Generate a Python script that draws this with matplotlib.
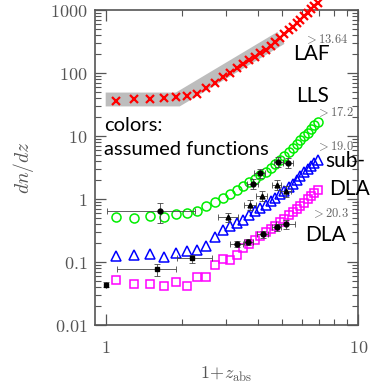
import matplotlib
matplotlib.use("Agg")
import matplotlib.pyplot as plt
from matplotlib.ticker import NullFormatter

plt.rcParams["mathtext.fontset"] = "cm"

# 1+z grid of the assumed functions
zp1 = [1.1, 1.3, 1.5, 1.7, 1.9, 2.1, 2.3, 2.5, 2.7, 2.9,
       3.1, 3.3, 3.5, 3.7, 3.9, 4.1, 4.3, 4.5, 4.7, 4.9,
       5.1, 5.3, 5.5, 5.7, 5.9, 6.1, 6.3, 6.5, 6.7, 6.9]

laf = [36.5, 38.1, 39.1, 40.2, 41.3, 42.5, 46.6, 56.9, 69.6, 85.0,
       100, 118, 137, 158, 180, 204, 232, 269, 311, 360,
       416, 473, 538, 611, 694, 789, 896, 1018, 1157, 1291]

lls = [0.516, 0.508, 0.541, 0.528, 0.576, 0.610, 0.650, 0.765, 0.902, 1.044,
       1.186, 1.373, 1.589, 1.839, 2.089, 2.374, 2.698, 3.123, 3.548, 4.107,
       4.752, 5.499, 6.364, 7.365, 8.52, 9.86, 11.2, 12.97, 14.7, 16.9]

subdla = [0.127, 0.130, 0.135, 0.122, 0.140, 0.149, 0.156, 0.181, 0.251, 0.324,
          0.369, 0.412, 0.459, 0.561, 0.638, 0.711, 0.794, 0.919, 1.044, 1.186,
          1.348, 1.532, 1.741, 2.014, 2.331, 2.698, 3.010, 3.36, 3.75, 4.18]

dla = [0.0523, 0.0444, 0.0452, 0.0412, 0.0486, 0.0420, 0.0577, 0.0590, 0.0904, 0.1105,
       0.1066, 0.130, 0.168, 0.195, 0.225, 0.256, 0.296, 0.337, 0.376, 0.435,
       0.485, 0.551, 0.615, 0.686, 0.780, 0.870, 0.988, 1.103, 1.253, 1.398]

# observed LAF band (centre line)
band_x = [1.0, 1.93, 4.94]
band_y = [38.0, 38.0, 360.0]

# measurements (black)
lls_obs_x = [1.64, 3.82, 4.08, 4.82, 5.28]
lls_obs_y = [0.65, 1.72, 2.57, 3.93, 3.71]
lls_obs_xlo = [0.625, 0.2, 0.2, 0.2, 0.25]
lls_obs_xhi = [0.625, 0.2, 0.2, 0.2, 0.25]
lls_obs_ylo = [0.235, 0.3, 0.4, 0.7, 0.6]
lls_obs_yhi = [0.23, 0.35, 0.45, 0.8, 0.7]

sub_obs_x = [3.06, 3.73, 4.15, 4.75, 5.17]
sub_obs_y = [0.516, 0.809, 1.123, 1.68, 1.324]
sub_obs_xerr = [0.28, 0.2, 0.2, 0.2, 0.25]
sub_obs_ylo = [0.08, 0.13, 0.2, 0.3, 0.25]
sub_obs_yhi = [0.09, 0.15, 0.22, 0.35, 0.3]

dla_obs_x = [3.30, 3.67, 4.18, 4.75, 5.17]
dla_obs_y = [0.195, 0.212, 0.280, 0.358, 0.404]
dla_obs_xerr = [0.2, 0.15, 0.2, 0.2, 0.45]
dla_obs_yerr = [0.02, 0.025, 0.035, 0.05, 0.07]

old_obs_x = [1.0, 1.6, 2.2]
old_obs_y = [0.0436, 0.0773, 0.118]
old_obs_xlo = [0.0, 0.495, 0.285]
old_obs_xhi = [0.0, 0.29, 0.43]
old_obs_ylo = [0.004, 0.018, 0.02]
old_obs_yhi = [0.004, 0.017, 0.014]

yticks = [0.01, 0.1, 1, 10, 100, 1000]
ytick_labels = ["0.01", "0.1", "1", "10", "100", "1000"]
xticks = [1, 10]
xtick_labels = ["1", "10"]

fig = plt.figure(figsize=(3.82, 3.83), dpi=100)
ax = fig.add_axes([0.248, 0.151, 0.690, 0.823])
ax.set_xscale("log")
ax.set_yscale("log")

ax.plot(band_x, band_y, color="#bdbdbd", lw=10, solid_capstyle="butt",
        solid_joinstyle="miter", zorder=1)

ax.plot(zp1, laf, "x", color="red", ms=6, mew=1.6, clip_on=False, zorder=3)
ax.plot(zp1, lls, "o", mfc="none", mec="#00ee00", ms=6.5, mew=1.1, zorder=3)
ax.plot(zp1, subdla, "^", mfc="none", mec="blue", ms=6.5, mew=1.1, zorder=3)
ax.plot(zp1, dla, "s", mfc="none", mec="magenta", ms=6, mew=1.1, zorder=3)

eb = dict(fmt="o", color="black", ecolor="#444444", elinewidth=0.6,
          capsize=2.5, capthick=0.6, ms=3.5, zorder=4)
ax.errorbar(lls_obs_x, lls_obs_y, xerr=[lls_obs_xlo, lls_obs_xhi],
            yerr=[lls_obs_ylo, lls_obs_yhi], **eb)
eb["fmt"] = "^"
ax.errorbar(sub_obs_x, sub_obs_y, xerr=sub_obs_xerr,
            yerr=[sub_obs_ylo, sub_obs_yhi], **eb)
eb["fmt"] = "o"
ax.errorbar(dla_obs_x, dla_obs_y, xerr=dla_obs_xerr, yerr=dla_obs_yerr, **eb)
eb["fmt"] = "s"
ax.errorbar(old_obs_x, old_obs_y, xerr=[old_obs_xlo, old_obs_xhi],
            yerr=[old_obs_ylo, old_obs_yhi], **eb)

ax.set_xlim(0.905, 10)
ax.set_ylim(0.01, 1000)

ax.set_yticks(yticks, labels=["$%s$" % t for t in ytick_labels])
ax.set_xticks(xticks, labels=["$%s$" % t for t in xtick_labels])
ax.xaxis.set_minor_formatter(NullFormatter())
ax.yaxis.set_minor_formatter(NullFormatter())
ax.tick_params(which="both", direction="in", top=True, right=True,
               color="#555555", labelcolor="#555555", labelsize=13)
ax.tick_params(which="major", length=8, width=0.9)
ax.tick_params(which="minor", length=4, width=0.8)
ax.tick_params(axis="y", pad=5)
ax.tick_params(axis="x", pad=10)
for s in ax.spines.values():
    s.set_color("#555555")
    s.set_linewidth(1.2)

ax.set_ylabel("$dn/dz$", fontsize=14, color="#555555", labelpad=10)
ax.set_xlabel(r"$1\!+\!z_{\rm abs}$", fontsize=13, color="#555555", labelpad=6)

# small threshold labels
grey = dict(color="#666666", fontsize=9, ha="center", va="baseline",
            transform=ax.transAxes)
ax.text(0.878, 0.896, r"${>}13.64$", **grey)
ax.text(0.912, 0.662, r"${>}17.2$", **grey)
ax.text(0.912, 0.556, r"${>}19.0$", **grey)
ax.text(0.894, 0.343, r"${>}20.3$", **grey)

big = dict(fontsize=15, family="Lato", ha="center", va="baseline",
           transform=ax.transAxes)
ax.text(0.821, 0.841, "LAF", **big)
ax.text(0.828, 0.709, "LLS", **big)
ax.text(0.950, 0.502, "sub-", **big)
ax.text(0.967, 0.413, "DLA", **big)
ax.text(0.877, 0.267, "DLA", **big)

note = dict(fontsize=14.5, family="Lato", ha="left", va="baseline",
            transform=ax.transAxes)
ax.text(0.036, 0.616, "colors:", **note)
ax.text(0.036, 0.540, "assumed functions", **note)

fig.savefig("out.png", dpi=100)
